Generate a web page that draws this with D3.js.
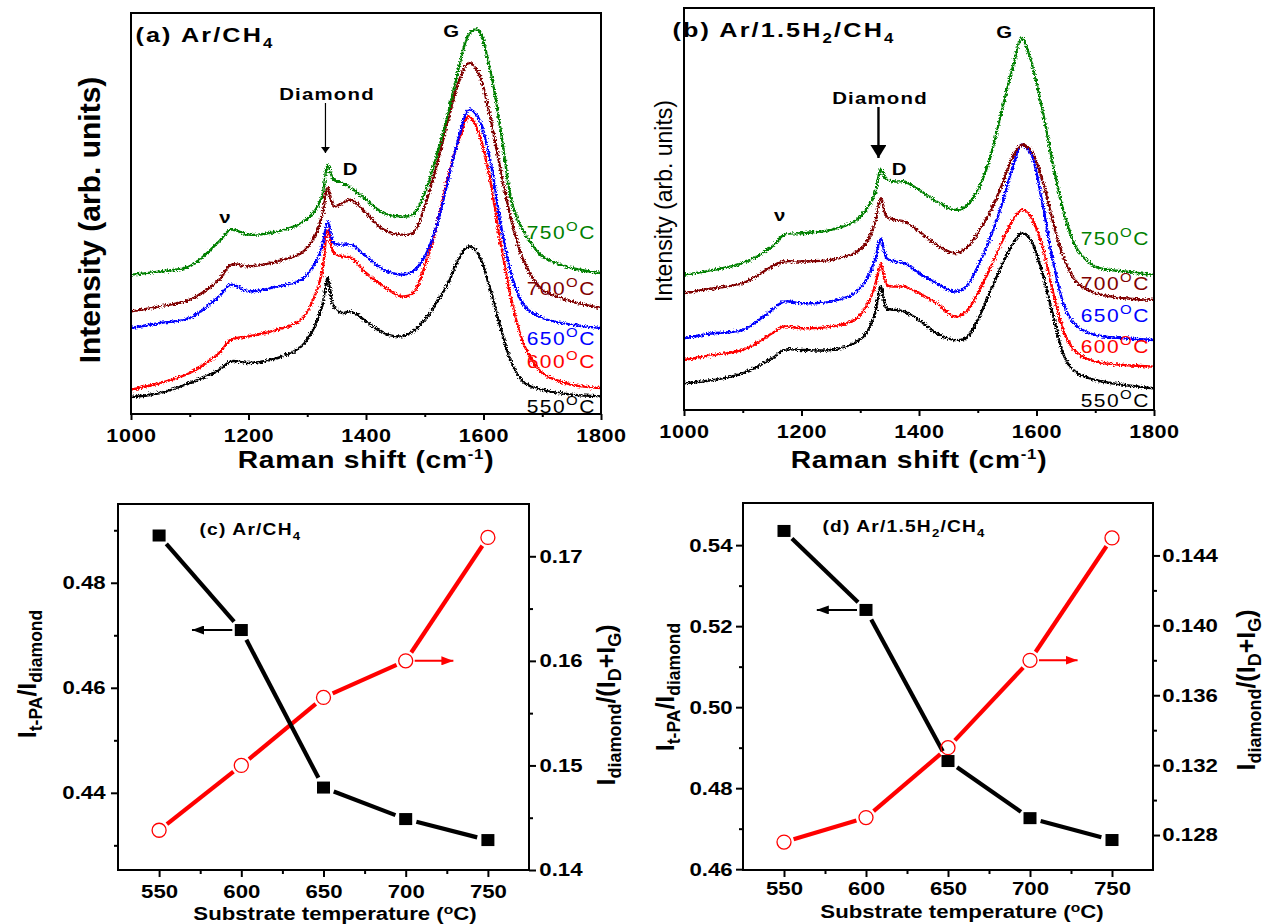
<!DOCTYPE html>
<html>
<head>
<meta charset="utf-8">
<script src="https://cdn.jsdelivr.net/npm/d3@7"></script>
<style>
  body { margin: 0; background: #fff; }
  svg text { font-family: "Liberation Sans", Arial, Helvetica, sans-serif; fill: #000; }
  /* horizontally widened lettering */
  svg text.wx { transform-box: fill-box; transform-origin: center; transform: scaleX(1.2); }
</style>
</head>
<body>
<svg id="fig" width="1273" height="924"></svg>
<script>
// ---------- Raman spectra (arb. units) ----------
const ramanShift = [1000,1050,1100,1150,1170,1200,1250,1290,1310,1325,1335,1345,1360,1375,1400,1430,1460,1480,1500,1520,1540,1560,1575,1590,1610,1630,1650,1670,1700,1750,1800];

// (a) Ar/CH4
const specA550 = [51,63,93,133,158,153,168,203,253,323,408,323,303,308,278,243,233,248,283,333,393,473,503,483,383,253,143,93,73,58,53];
const specA600 = [73,93,123,183,223,233,253,283,343,423,553,483,473,468,423,383,353,363,443,563,713,833,893,853,713,503,323,203,123,88,78];
const specA650 = [258,273,288,353,388,368,383,403,443,503,578,513,508,508,473,433,418,428,473,563,703,843,913,893,773,563,403,323,288,268,258];
const specA700 = [308,323,343,403,448,443,458,483,523,593,681,623,633,643,603,553,538,543,623,743,883,1008,1053,1028,903,723,563,453,373,338,318];
const specA750 = [418,428,443,518,553,538,548,573,603,653,746,703,693,678,643,603,593,598,663,773,903,1053,1138,1153,1043,843,623,543,473,438,423];

// (b) Ar/1.5H2/CH4
const specB550 = [80,90,110,155,180,180,180,200,230,290,370,305,300,295,270,230,210,215,270,350,430,500,530,510,410,270,150,110,90,75,65];
const specB600 = [150,165,180,230,250,245,250,270,310,370,440,375,370,370,350,320,280,295,350,420,500,570,600,580,490,340,220,170,145,135,130];
const specB650 = [215,230,240,300,325,320,325,350,390,450,515,455,445,440,410,380,355,370,430,510,610,730,795,770,620,430,300,250,225,215,210];
const specB700 = [350,365,380,430,445,445,450,470,500,560,635,580,570,565,535,495,470,485,530,590,670,760,795,780,690,550,440,380,350,335,330];
const specB750 = [405,420,440,490,525,530,540,565,600,650,720,690,685,685,660,625,600,610,660,750,890,1030,1115,1050,900,720,570,480,430,415,405];

const tempNames = ["550", "600", "650", "700", "750"];
const tempColors = ["#000000", "#ff0000", "#0000ff", "#800000", "#008000"];
const shiftTicks = [1000, 1200, 1400, 1600, 1800];
const shiftMinor = [1100, 1300, 1500, 1700];

// ---------- Intensity ratios vs substrate temperature ----------
const substrateT = [550, 600, 650, 700, 750];
const tpaRatioC = [0.489, 0.471, 0.441, 0.435, 0.431];
const diamRatioC = [0.1438, 0.150, 0.1565, 0.160, 0.1718];
const tpaRatioD = [0.5435, 0.524, 0.4867, 0.4726, 0.4672];
const diamRatioD = [0.1276, 0.129, 0.133, 0.138, 0.145];

const tempTicks = [550, 600, 650, 700, 750];
const tempMinor = [575, 625, 675, 725];
const leftTicksC = [0.44, 0.46, 0.48];
const leftMinorC = [0.43, 0.45, 0.47, 0.49];
const rightTicksC = [0.14, 0.15, 0.16, 0.17];
const rightMinorC = [0.145, 0.155, 0.165];
const leftTicksD = [0.46, 0.48, 0.50, 0.52, 0.54];
const leftMinorD = [0.47, 0.49, 0.51, 0.53];
const rightTicksD = [0.128, 0.132, 0.136, 0.140, 0.144];
const rightMinorD = [0.130, 0.134, 0.138, 0.142];

const svg = d3.select("#fig");

// slight jitter texture on the spectra traces
const defs = svg.append("defs");
const grain = defs.append("filter").attr("id", "grain")
  .attr("x", "-2%").attr("y", "-2%").attr("width", "104%").attr("height", "104%");
grain.append("feTurbulence").attr("type", "fractalNoise").attr("baseFrequency", "0.6")
  .attr("numOctaves", 2).attr("seed", 7).attr("result", "n");
grain.append("feDisplacementMap").attr("in", "SourceGraphic").attr("in2", "n")
  .attr("scale", 5).attr("xChannelSelector", "R").attr("yChannelSelector", "G");

function arrowHead(id, color, w, h) {
  defs.append("marker").attr("id", id).attr("viewBox", `0 0 ${w} ${h}`)
    .attr("refX", w).attr("refY", h / 2).attr("markerWidth", w).attr("markerHeight", h)
    .attr("markerUnits", "userSpaceOnUse").attr("orient", "auto")
    .append("path").attr("d", `M0,0L${w},${h / 2}L0,${h}Z`).attr("fill", color);
}
arrowHead("headThin", "#000", 6, 9);
arrowHead("headBold", "#000", 13, 16);
arrowHead("headBlack", "#000", 12, 9);
arrowHead("headRed", "#ff0000", 12, 9);

// text with sub/superscript runs: parts = [[text, "n"|"sub"|"sup"], ...]
function richText(g, parts, size, subSize, subShift) {
  let cur = 0;
  parts.forEach(([t, kind]) => {
    const ts = g.append("tspan").text(t);
    const target = kind === "sub" ? subShift : kind === "sup" ? -subShift * 1.5 : 0;
    ts.attr("dy", target - cur).attr("font-size", kind === "n" ? size : subSize);
    cur = target;
  });
  return g;
}

// ---------- Spectra panel ----------
function spectraPanel(cfg) {
  const { l, r, t, b } = cfg.frame;
  const x = d3.scaleLinear().domain([1000, 1800]).range([l, r]);
  const y = d3.scaleLinear().domain([0, cfg.yMax]).range([b, t]);
  const g = svg.append("g");

  const line = d3.line().x(d => x(d[0])).y(d => y(d[1])).curve(d3.curveCatmullRom.alpha(0.5));
  const clipId = "clip" + cfg.id;
  defs.append("clipPath").attr("id", clipId).append("rect")
    .attr("x", l).attr("y", t).attr("width", r - l).attr("height", b - t);
  const traces = g.append("g").attr("clip-path", `url(#${clipId})`).append("g").attr("filter", "url(#grain)");
  cfg.series.forEach((s, i) => {
    traces.append("path")
      .attr("d", line(ramanShift.map((v, k) => [v, s[k]])))
      .attr("fill", "none").attr("stroke", tempColors[i]).attr("stroke-width", 2.4)
      .attr("stroke-linejoin", "round");
  });

  // frame
  g.append("rect").attr("x", l).attr("y", t).attr("width", r - l).attr("height", b - t)
    .attr("fill", "none").attr("stroke", "#000").attr("stroke-width", 2);

  // bottom axis
  const ax = g.append("g").attr("transform", `translate(0,${b})`)
    .call(d3.axisBottom(x).tickValues(shiftTicks).tickSize(6).tickFormat(d3.format("d")));
  ax.select(".domain").remove();
  ax.selectAll("line").attr("stroke", "#000").attr("stroke-width", 2);
  ax.selectAll("text").attr("class", "wx").attr("font-size", 18).attr("font-weight", "bold")
    .attr("letter-spacing", 0.5).attr("dy", null).attr("y", 28);
  const axm = g.append("g").attr("transform", `translate(0,${b})`)
    .call(d3.axisBottom(x).tickValues(shiftMinor).tickSize(3).tickFormat(""));
  axm.select(".domain").remove();
  axm.selectAll("line").attr("stroke", "#000").attr("stroke-width", 2);

  // x title
  richText(g.append("text").attr("class", "wx").attr("x", (l + r) / 2).attr("y", 468)
    .attr("text-anchor", "middle").attr("font-weight", "bold").attr("letter-spacing", 0.6),
    [["Raman shift (cm", "n"], ["-1", "sup"], [")", "n"]], 23.5, 14, 6);

  // y title
  g.append("text").attr("transform", `translate(${cfg.yTitle.x},${cfg.yTitle.y}) rotate(-90)`)
    .attr("text-anchor", "middle").attr("font-size", cfg.yTitle.size)
    .attr("font-weight", cfg.yTitle.weight).text("Intensity (arb. units)");

  // panel title
  richText(g.append("text").attr("class", "wx").attr("x", cfg.titleX).attr("y", cfg.titleY)
    .attr("font-weight", "bold").attr("letter-spacing", 1.8), cfg.title, 21, 14, 6);

  // band labels
  const band = (txt, xv, yy) => g.append("text").attr("class", "wx").attr("x", x(xv)).attr("y", yy)
    .attr("text-anchor", "middle").attr("font-size", 17).attr("font-weight", "bold").text(txt);
  band("G", 1545, cfg.gY);
  band("D", cfg.dX, 175);
  band("ν", cfg.nuX, cfg.nuY);
  g.append("text").attr("class", "wx").attr("x", cfg.diamX).attr("y", cfg.diamY).attr("text-anchor", "middle")
    .attr("font-size", 17).attr("font-weight", "bold").attr("letter-spacing", 1).text("Diamond");
  g.append("line").attr("x1", x(1331)).attr("x2", x(1331))
    .attr("y1", cfg.diamY + 3).attr("y2", cfg.arrowEnd)
    .attr("stroke", "#000").attr("stroke-width", cfg.arrowBold ? 2.4 : 1.2)
    .attr("marker-end", cfg.arrowBold ? "url(#headBold)" : "url(#headThin)");

  // temperature labels
  cfg.labelY.forEach((yy, i) => {
    richText(g.append("text").attr("class", "wx").attr("x", cfg.labelRight).attr("y", yy)
      .attr("text-anchor", "end").attr("fill", tempColors[i]).attr("letter-spacing", 1.2),
      [[tempNames[i], "n"], ["O", "sup"], ["C", "n"]], 17.5, 12.5, 5)
      .selectAll("tspan").attr("fill", tempColors[i]);
  });
}

spectraPanel({
  id: "a", frame: { l: 131, r: 601, t: 13, b: 414 }, yMax: 1203,
  series: [specA550, specA600, specA650, specA700, specA750],
  title: [["(a) Ar/CH", "n"], ["4", "sub"]], titleX: 147, titleY: 42,
  yTitle: { x: 100, y: 220, size: 30, weight: "bold" },
  gY: 37, dX: 1373, nuX: 1160, nuY: 223, diamX: 327, diamY: 100, arrowEnd: 153, arrowBold: false,
  labelRight: 590, labelY: [413, 368, 345, 295, 239]
});
spectraPanel({
  id: "b", frame: { l: 684, r: 1154, t: 8, b: 410 }, yMax: 1205,
  series: [specB550, specB600, specB650, specB700, specB750],
  title: [["(b) Ar/1.5H", "n"], ["2", "sub"], ["/CH", "n"], ["4", "sub"]], titleX: 691, titleY: 37,
  yTitle: { x: 672, y: 201, size: 23, weight: "normal" },
  gY: 38, dX: 1366, nuX: 1163, nuY: 221, diamX: 880, diamY: 104, arrowEnd: 158, arrowBold: true,
  labelRight: 1144, labelY: [407, 353, 322, 290, 245]
});

// ---------- Ratio panels ----------
function ratioPanel(cfg) {
  const { l, r, t, b } = cfg.frame;
  const x = d3.scaleLinear().domain([525, 775]).range([l, r]);
  const yL = d3.scaleLinear().domain(cfg.leftDomain).range([b, t]);
  const yR = d3.scaleLinear().domain(cfg.rightDomain).range([b, t]);
  const g = svg.append("g");

  g.append("rect").attr("x", l).attr("y", t).attr("width", r - l).attr("height", b - t)
    .attr("fill", "none").attr("stroke", "#000").attr("stroke-width", 2);

  const styleAxis = (sel, labelled) => {
    sel.select(".domain").remove();
    sel.selectAll("line").attr("stroke", "#000").attr("stroke-width", 2);
    if (labelled) sel.selectAll("text").attr("class", "wx").attr("font-size", 18.5).attr("font-weight", "bold");
  };
  // bottom
  const bx = g.append("g").attr("transform", `translate(0,${b})`)
    .call(d3.axisBottom(x).tickValues(tempTicks).tickSize(7).tickFormat(d3.format("d")));
  styleAxis(bx, true);
  bx.selectAll("text").attr("dy", null).attr("y", cfg.tickLabelDy);
  styleAxis(g.append("g").attr("transform", `translate(0,${b})`)
    .call(d3.axisBottom(x).tickValues(tempMinor).tickSize(4).tickFormat("")), false);
  // left
  styleAxis(g.append("g").attr("transform", `translate(${l},0)`)
    .call(d3.axisLeft(yL).tickValues(cfg.leftTicks).tickSize(7).tickPadding(cfg.leftPad).tickFormat(d3.format(".2f"))), true);
  styleAxis(g.append("g").attr("transform", `translate(${l},0)`)
    .call(d3.axisLeft(yL).tickValues(cfg.leftMinor).tickSize(4).tickFormat("")), false);
  // right
  styleAxis(g.append("g").attr("transform", `translate(${r},0)`)
    .call(d3.axisRight(yR).tickValues(cfg.rightTicks).tickSize(7).tickPadding(7).tickFormat(d3.format(cfg.rightFmt))), true);
  styleAxis(g.append("g").attr("transform", `translate(${r},0)`)
    .call(d3.axisRight(yR).tickValues(cfg.rightMinor).tickSize(4).tickFormat("")), false);

  // axis titles
  richText(g.append("text").attr("class", "wx").attr("x", cfg.xTitleX).attr("y", cfg.xTitleY)
    .attr("text-anchor", "middle").attr("font-weight", "bold"),
    [["Substrate temperature (", "n"], ["o", "sup"], ["C)", "n"]], 18.5, 13, 4);
  richText(g.append("text").attr("transform", `translate(${cfg.leftTitle[0]},${cfg.leftTitle[1]}) rotate(-90)`)
    .attr("text-anchor", "middle").attr("font-weight", "bold"),
    [["I", "n"], ["t-PA", "sub"], ["/I", "n"], ["diamond", "sub"]], 25, 17.5, 6);
  richText(g.append("text").attr("transform", `translate(${cfg.rightTitle[0]},${cfg.rightTitle[1]}) rotate(-90)`)
    .attr("text-anchor", "middle").attr("font-weight", "bold"),
    [["I", "n"], ["diamond", "sub"], ["/(I", "n"], ["D", "sub"], ["+I", "n"], ["G", "sub"], [")", "n"]], 25, 18, 6);

  // panel title
  richText(g.append("text").attr("class", "wx").attr("x", cfg.titlePos[0]).attr("y", cfg.titlePos[1])
    .attr("font-weight", "bold").attr("letter-spacing", 1), cfg.title, 16, 11, 5);

  // connecting segments that stop short of the markers
  const segs = (pts, gap) => d3.pairs(pts).map(([p, q]) => {
    const dx = q[0] - p[0], dy = q[1] - p[1], len = Math.hypot(dx, dy);
    const ux = dx / len, uy = dy / len;
    return [p[0] + ux * gap, p[1] + uy * gap, q[0] - ux * gap, q[1] - uy * gap];
  });
  const blackPts = substrateT.map((v, i) => [x(v), yL(cfg.tpa[i])]);
  const redPts = substrateT.map((v, i) => [x(v), yR(cfg.diam[i])]);
  g.selectAll(null).data(segs(redPts, 10)).join("line")
    .attr("x1", d => d[0]).attr("y1", d => d[1]).attr("x2", d => d[2]).attr("y2", d => d[3])
    .attr("stroke", "#ff0000").attr("stroke-width", 4.2);
  g.selectAll(null).data(segs(blackPts, 11)).join("line")
    .attr("x1", d => d[0]).attr("y1", d => d[1]).attr("x2", d => d[2]).attr("y2", d => d[3])
    .attr("stroke", "#000").attr("stroke-width", 4.2);
  g.selectAll(null).data(redPts).join("circle")
    .attr("cx", d => d[0]).attr("cy", d => d[1]).attr("r", 7)
    .attr("fill", "none").attr("stroke", "#ff0000").attr("stroke-width", 1.3);
  g.selectAll(null).data(blackPts).join("rect")
    .attr("x", d => d[0] - 6.5).attr("y", d => d[1] - 6).attr("width", 13).attr("height", 12)
    .attr("fill", "#000");

  // direction arrows to the matching axis
  g.append("line").attr("x1", x(600) - 9).attr("x2", x(570))
    .attr("y1", yL(cfg.tpa[1])).attr("y2", yL(cfg.tpa[1]))
    .attr("stroke", "#000").attr("stroke-width", 2).attr("marker-end", "url(#headBlack)");
  g.append("line").attr("x1", x(700) + 9).attr("x2", x(729))
    .attr("y1", yR(cfg.diam[3])).attr("y2", yR(cfg.diam[3]))
    .attr("stroke", "#ff0000").attr("stroke-width", 2).attr("marker-end", "url(#headRed)");
}

ratioPanel({
  frame: { l: 118, r: 529, t: 504, b: 870 },
  leftDomain: [0.4253, 0.4950], rightDomain: [0.14, 0.175],
  leftTicks: leftTicksC, leftMinor: leftMinorC, rightTicks: rightTicksC, rightMinor: rightMinorC,
  rightFmt: ".2f", tpa: tpaRatioC, diam: diamRatioC, leftPad: 9, tickLabelDy: 28,
  title: [["(c) Ar/CH", "n"], ["4", "sub"]], titlePos: [208, 535],
  xTitleX: 335, xTitleY: 920,
  leftTitle: [36, 674], rightTitle: [615, 705]
});
ratioPanel({
  frame: { l: 743, r: 1153, t: 503, b: 870 },
  leftDomain: [0.4598, 0.5504], rightDomain: [0.1260, 0.1470],
  leftTicks: leftTicksD, leftMinor: leftMinorD, rightTicks: rightTicksD, rightMinor: rightMinorD,
  rightFmt: ".3f", tpa: tpaRatioD, diam: diamRatioD, leftPad: 7, tickLabelDy: 25,
  title: [["(d) Ar/1.5H", "n"], ["2", "sub"], ["/CH", "n"], ["4", "sub"]], titlePos: [836, 532],
  xTitleX: 962, xTitleY: 918,
  leftTitle: [674, 687], rightTitle: [1255, 690]
});
</script>
</body>
</html>
